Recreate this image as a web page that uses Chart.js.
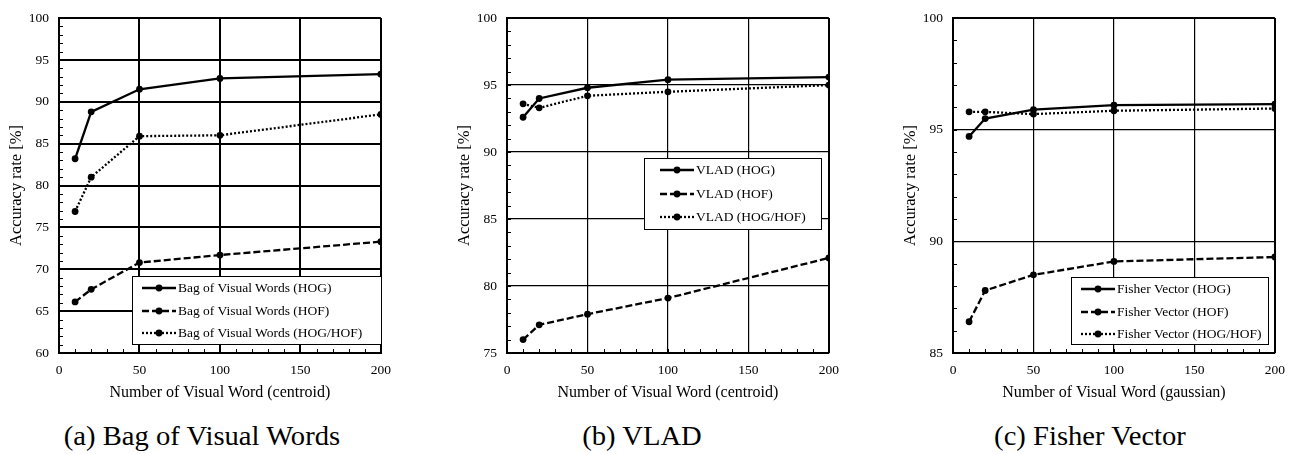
<!DOCTYPE html>
<html>
<head>
<meta charset="utf-8">
<script src="https://cdn.jsdelivr.net/npm/chart.js@4.4.0/dist/chart.umd.min.js"></script>
<style>
  body { margin: 0; background: #fff; width: 1299px; height: 454px; position: relative; overflow: hidden; font-family: "Liberation Serif", "Times New Roman", serif; color: #000; }
  .panel { position: absolute; top: 0; }
  .legend { position: absolute; box-sizing: border-box; border: 1.5px solid #000; background: #fff; font-family: "Liberation Serif", serif; font-size: 13.5px; }
  .legend .row { position: absolute; left: 0; height: 16px; display: flex; align-items: center; white-space: nowrap; }
  .legend canvas { margin-right: 2px; }
  .caption { position: absolute; top: 423px; font-family: "Liberation Serif", "DejaVu Serif", serif; font-size: 27px; line-height: 1; white-space: nowrap; transform: translateX(-50%) scaleX(1.06); }
</style>
</head>
<body>
<canvas id="chartA" class="panel" width="400" height="410" style="left:0px"></canvas>
<canvas id="chartB" class="panel" width="400" height="410" style="left:448px"></canvas>
<canvas id="chartC" class="panel" width="400" height="410" style="left:894px"></canvas>
<div id="legendA" class="legend" style="left:132px;top:276px;width:250px;height:69px"></div>
<div id="legendB" class="legend" style="left:644px;top:158px;width:178px;height:72px"></div>
<div id="legendC" class="legend" style="left:1071px;top:277px;width:198px;height:68px"></div>
<div class="caption" style="left:202px">(a) Bag of Visual Words</div>
<div class="caption" style="left:642px">(b) VLAD</div>
<div class="caption" style="left:1090px">(c) Fisher Vector</div>
<script>
// number of visual words (x values)
const xValues = [10, 20, 50, 100, 200]

// Bag of Visual Words
const bowHog = [83.2, 88.8, 91.5, 92.8, 93.3]
const bowHof = [66.1, 67.6, 70.8, 71.7, 73.3]
const bowHogHof = [76.9, 81.0, 85.9, 86.0, 88.5]

// VLAD
const vladHog = [92.6, 94.0, 94.8, 95.4, 95.6]
const vladHof = [76.0, 77.1, 77.9, 79.1, 82.1]
const vladHogHof = [93.6, 93.3, 94.2, 94.5, 95.0]

// Fisher Vector
const fvHog = [94.7, 95.5, 95.9, 96.1, 96.15]
const fvHof = [86.4, 87.8, 88.5, 89.1, 89.3]
const fvHogHof = [95.8, 95.8, 95.7, 95.85, 95.95]

const FONT = "'Liberation Serif', 'Times New Roman', serif"
const SOLID = []
const DASHED = [7, 3]
const DOTTED = [2, 2]

// small inward minor ticks on left and bottom axes
const minorTicks = {
  id: "minorTicks",
  beforeDatasetsDraw(chart) {
    const { ctx, chartArea: a, scales: { x, y } } = chart
    ctx.save()
    ctx.strokeStyle = "#000"
    ctx.lineWidth = 1
    ctx.beginPath()
    for (let v = y.min; v <= y.max; v += 1) {
      const py = Math.round(y.getPixelForValue(v)) + 0.5
      ctx.moveTo(a.left, py)
      ctx.lineTo(a.left + 4, py)
    }
    for (let v = x.min; v <= x.max; v += 10) {
      const px = Math.round(x.getPixelForValue(v)) + 0.5
      ctx.moveTo(px, a.bottom)
      ctx.lineTo(px, a.bottom - 4)
    }
    ctx.stroke()
    ctx.restore()
  }
}

function series(label, values, dash) {
  return {
    label: label,
    data: xValues.map((x, i) => ({ x: x, y: values[i] })),
    borderColor: "#000",
    backgroundColor: "#000",
    borderWidth: 2.3,
    borderDash: dash,
    pointRadius: 3.4,
    pointBorderWidth: 0,
    pointBackgroundColor: "#000",
    tension: 0
  }
}

function makeChart(id, datasets, yMin, xTitle, gridWidth) {
  const ctx = document.getElementById(id).getContext("2d")
  return new Chart(ctx, {
    type: "line",
    data: { datasets: datasets },
    plugins: [minorTicks],
    options: {
      responsive: false,
      animation: false,
      layout: { padding: { top: 13, right: 18, left: 0, bottom: 0 } },
      plugins: { legend: { display: false }, tooltip: { enabled: false } },
      scales: {
        x: {
          type: "linear",
          min: 0, max: 200,
          afterFit: s => { s.height = 57 },
          ticks: { stepSize: 50, color: "#000", padding: 9, font: { family: FONT, size: 13.5 } },
          grid: { color: "#000", lineWidth: c => c.tick && c.tick.value === 200 ? 2 : gridWidth, drawTicks: false },
          border: { color: "#000", width: 2 },
          title: { display: true, text: xTitle, color: "#000", padding: { top: 0, bottom: 8 }, font: { family: FONT, size: 16 } }
        },
        y: {
          min: yMin, max: 100,
          afterFit: s => { s.width = 59 },
          ticks: { stepSize: 5, color: "#000", padding: 10, font: { family: FONT, size: 13.5 } },
          grid: { color: "#000", lineWidth: c => c.tick && c.tick.value === 100 ? 2 : gridWidth, drawTicks: false },
          border: { color: "#000", width: 2 },
          title: { display: true, text: "Accuracy rate [%]", color: "#000", padding: { top: 7, bottom: 0 }, font: { family: FONT, size: 16.5 } }
        }
      }
    }
  })
}

// legend icon: line sample with a dot in the middle
function legendIcon(dash) {
  const c = document.createElement("canvas")
  c.width = 34
  c.height = 10
  const g = c.getContext("2d")
  g.strokeStyle = "#000"
  g.fillStyle = "#000"
  g.lineWidth = 2.3
  g.setLineDash(dash)
  g.beginPath()
  g.moveTo(0, 5)
  g.lineTo(34, 5)
  g.stroke()
  g.beginPath()
  g.arc(17, 5, 3.4, 0, Math.PI * 2)
  g.fill()
  return c
}

function buildLegend(id, chart, padLeft, firstRow, rowGap) {
  const box = document.getElementById(id)
  chart.data.datasets.forEach((ds, i) => {
    const row = document.createElement("div")
    row.className = "row"
    row.style.left = padLeft + "px"
    row.style.top = (firstRow + rowGap * i - 8) + "px"
    row.appendChild(legendIcon(ds.borderDash))
    const span = document.createElement("span")
    span.textContent = ds.label
    row.appendChild(span)
    box.appendChild(row)
  })
}

const chartA = makeChart("chartA", [
  series("Bag of Visual Words (HOG)", bowHog, SOLID),
  series("Bag of Visual Words (HOF)", bowHof, DASHED),
  series("Bag of Visual Words (HOG/HOF)", bowHogHof, DOTTED)
], 60, "Number of Visual Word (centroid)", 2)

const chartB = makeChart("chartB", [
  series("VLAD (HOG)", vladHog, SOLID),
  series("VLAD (HOF)", vladHof, DASHED),
  series("VLAD (HOG/HOF)", vladHogHof, DOTTED)
], 75, "Number of Visual Word (centroid)", 1.2)

const chartC = makeChart("chartC", [
  series("Fisher Vector (HOG)", fvHog, SOLID),
  series("Fisher Vector (HOF)", fvHof, DASHED),
  series("Fisher Vector (HOG/HOF)", fvHogHof, DOTTED)
], 85, "Number of Visual Word (gaussian)", 1.2)

buildLegend("legendA", chartA, 9, 11, 22.5)
buildLegend("legendB", chartB, 15, 11, 23.5)
buildLegend("legendC", chartC, 9, 11, 22.5)
</script>
</body>
</html>
